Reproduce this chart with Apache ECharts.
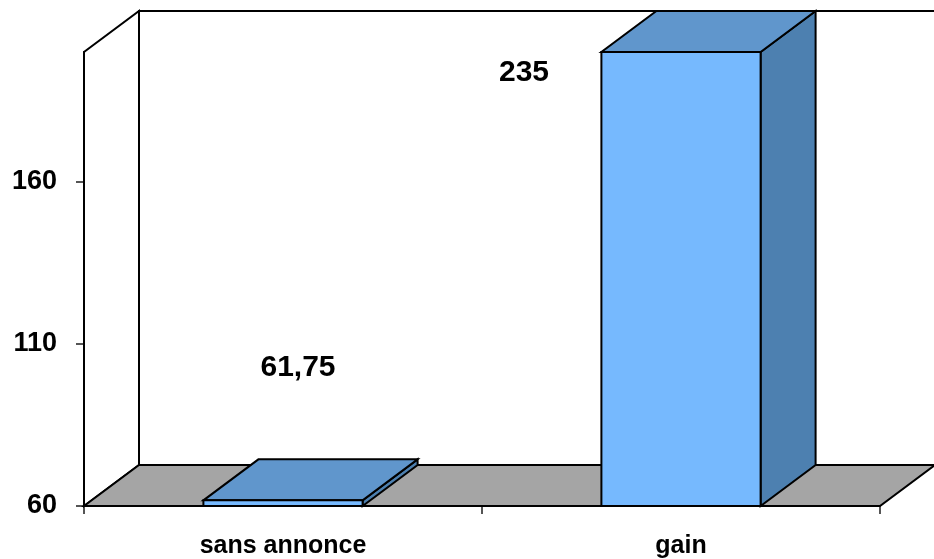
<!DOCTYPE html>
<html>
<head>
<meta charset="utf-8">
<script src="https://cdn.jsdelivr.net/npm/echarts@6/dist/echarts.min.js"></script>
<style>
  html, body { margin: 0; padding: 0; background: #fff; }
  #chart { width: 934px; height: 559px; }
</style>
</head>
<body>
<div id="chart"></div>
<script>
var categories = ["sans annonce", "gain"];
var values = [61.75, 235];
var valueLabels = ["61,75", "235"];
var yTicks = [60, 110, 160];
var yMin = 60, yMax = 200;

// 3D depth of the box (pixels)
var depthX = 55, depthY = -41;
var labelOffsets = [[15, -133], [-157, 21]];

var chart = echarts.init(document.getElementById("chart"));

function renderScene(params, api) {
  var cs = params.coordSys;
  var left = cs.x, right = cs.x + cs.width, top = cs.y, bottom = cs.y + cs.height;
  var lineStyle = { stroke: "#000", lineWidth: 2 };
  return {
    type: "group",
    children: [
      // back wall
      {
        type: "polygon",
        shape: { points: [[left + depthX, top + depthY], [right + depthX, top + depthY], [right + depthX, bottom + depthY], [left + depthX, bottom + depthY]] },
        style: { fill: "#fff", stroke: "#000", lineWidth: 2 }
      },
      // side wall
      {
        type: "polygon",
        shape: { points: [[left, bottom], [left, top], [left + depthX, top + depthY], [left + depthX, bottom + depthY]] },
        style: { fill: "#fff", stroke: "#000", lineWidth: 2 }
      },
      // floor
      {
        type: "polygon",
        shape: { points: [[left, bottom], [right, bottom], [right + depthX, bottom + depthY], [left + depthX, bottom + depthY]] },
        style: { fill: "#a5a5a5", stroke: "#000", lineWidth: 2 }
      }
    ]
  };
}

function renderBar(params, api) {
  var cat = api.value(0);
  var v = Math.min(api.value(1), yMax);
  var base = api.coord([cat, yMin]);
  var topPt = api.coord([cat, v]);
  var w = api.size([1, 0])[0] * 0.4;
  var x0 = base[0] - w / 2, x1 = base[0] + w / 2;
  var yb = base[1], yt = topPt[1];
  var off = labelOffsets[params.dataIndex];
  return {
    type: "group",
    children: [
      {
        type: "polygon",
        shape: { points: [[x1, yt], [x1 + depthX, yt + depthY], [x1 + depthX, yb + depthY], [x1, yb]] },
        style: { fill: "#4d80b0", stroke: "#000", lineWidth: 2 }
      },
      {
        type: "polygon",
        shape: { points: [[x0, yt], [x1, yt], [x1 + depthX, yt + depthY], [x0 + depthX, yt + depthY]] },
        style: { fill: "#6096cc", stroke: "#000", lineWidth: 2 }
      },
      {
        type: "rect",
        shape: { x: x0, y: yt, width: w, height: yb - yt },
        style: { fill: "#76b9fe", stroke: "#000", lineWidth: 2 }
      },
      {
        type: "text",
        x: base[0] + off[0],
        y: yt + off[1],
        style: {
          text: valueLabels[params.dataIndex],
          fill: "#000",
          font: "bold 30px 'Liberation Sans', Arial, sans-serif",
          align: "center",
          verticalAlign: "middle"
        }
      }
    ]
  };
}

var option = {
  animation: false,
  backgroundColor: "#fff",
  grid: { left: 84, right: 54, top: 52, bottom: 52 },
  xAxis: {
    type: "category",
    data: categories,
    boundaryGap: true,
    axisLine: { show: true, lineStyle: { color: "#000", width: 2 } },
    axisTick: { show: true, length: 8, lineStyle: { color: "#555", width: 2 } },
    axisLabel: {
      margin: 28,
      color: "#000",
      fontSize: 25,
      fontWeight: "bold",
      fontFamily: "'Liberation Sans', Arial, sans-serif"
    },
    splitLine: { show: false }
  },
  yAxis: {
    type: "value",
    min: yMin,
    max: yMax,
    axisLine: { show: true, lineStyle: { color: "#000", width: 2 } },
    axisTick: { show: true, length: 8, customValues: yTicks, lineStyle: { color: "#555", width: 2 } },
    axisLabel: {
      customValues: yTicks,
      margin: 27,
      color: "#000",
      fontSize: 27,
      fontWeight: "bold",
      fontFamily: "'Liberation Sans', Arial, sans-serif"
    },
    splitLine: { show: false }
  },
  series: [
    {
      type: "custom",
      renderItem: renderScene,
      data: [[0, yMin]],
      z: 1,
      silent: true
    },
    {
      type: "custom",
      renderItem: renderBar,
      data: values.map(function (v, i) { return [i, v]; }),
      encode: { x: 0, y: 1 },
      z: 2,
      clip: false
    }
  ]
};

chart.setOption(option);
</script>
</body>
</html>
